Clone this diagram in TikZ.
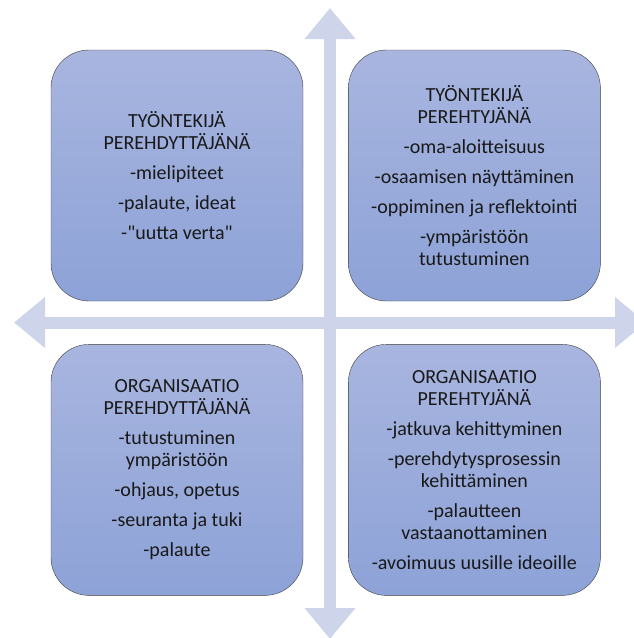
\documentclass[tikz,border=0pt]{standalone}
\usepackage{fontspec}
\setmainfont{Carlito}[Ligatures=TeXOff]
\usepackage{tikz}
\usetikzlibrary{arrows.meta,positioning}

\definecolor{axisblue}{RGB}{206,212,234}
\definecolor{boxtop}{RGB}{168,181,223}
\definecolor{boxbottom}{RGB}{141,162,215}
\definecolor{boxline}{RGB}{64,64,64}
\definecolor{textgray}{RGB}{25,25,25}

\begin{document}
\begin{tikzpicture}[x=1pt,y=-1pt,
                    axis/.style={draw=axisblue,line width=12pt,
                      {Triangle[width=49pt,length=31pt]}-{Triangle[width=49pt,length=31pt]}},
                    quad node/.style={rectangle,rounded corners=38pt,draw=boxline,thin,
                      top color=boxtop,bottom color=boxbottom,
                      minimum width=252pt,minimum height=251pt,align=center,
                      text=textgray,font=\fontsize{20}{22}\selectfont}]

  \useasboundingbox (0,0) rectangle (634,638);

  % the two axes
  \coordinate (n) at (330,8);
  \coordinate (s) at (330,639);
  \coordinate (w) at (14,322.5);
  \coordinate (e) at (646,322.5);
  \draw[axis] (n) -- (s);
  \draw[axis] (w) -- (e);

  % the four quadrants
  \node[quad node] (tl) at (177,175.5)
    {TYÖNTEKIJÄ\\PEREHDYTTÄJÄNÄ\\[8pt]-mielipiteet\\[8pt]-palaute, ideat\\[8pt]-"uutta verta"};
  \node[quad node] (tr) [right=45pt of tl]
    {TYÖNTEKIJÄ\\PEREHTYJÄNÄ\\[8pt]-oma-aloitteisuus\\[8pt]-osaamisen näyttäminen\\[8pt]-oppiminen ja reflektointi\\[8pt]-ympäristöön\\tutustuminen};
  \node[quad node] (bl) [below=43pt of tl]
    {ORGANISAATIO\\PEREHDYTTÄJÄNÄ\\[8pt]-tutustuminen\\ympäristöön\\[8pt]-ohjaus, opetus\\[8pt]-seuranta ja tuki\\[8pt]-palaute};
  \node[quad node] (br) [below=43pt of tr]
    {ORGANISAATIO\\PEREHTYJÄNÄ\\[8pt]-jatkuva kehittyminen\\[8pt]-perehdytysprosessin\\kehittäminen\\[8pt]-palautteen\\vastaanottaminen\\[8pt]-avoimuus uusille ideoille};
\end{tikzpicture}
\end{document}
